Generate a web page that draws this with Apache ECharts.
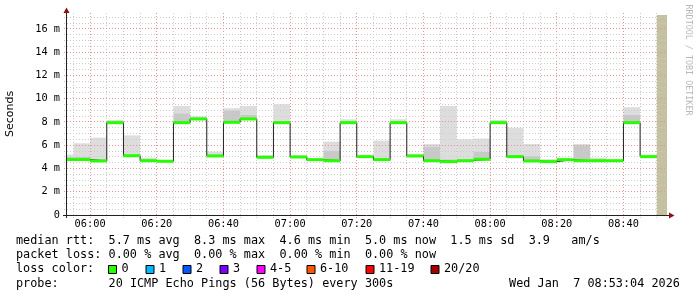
<!DOCTYPE html>
<html><head><meta charset="utf-8">
<script src="https://cdn.jsdelivr.net/npm/echarts@6/dist/echarts.min.js"></script>
<style>html,body{margin:0;padding:0;background:#fff}#c{width:697px;height:297px}</style>
</head><body><div id="c"></div>
<script>
// ---------- data ----------
const intervalStarts = ['05:50','05:55','06:00','06:05','06:10','06:15','06:20','06:25','06:30','06:35',
  '06:40','06:45','06:50','06:55','07:00','07:05','07:10','07:15','07:20','07:25','07:30','07:35',
  '07:40','07:45','07:50','07:55','08:00','08:05','08:10','08:15','08:20','08:25','08:30','08:35',
  '08:40','08:45'];
const medianMs = [4.77,4.77,4.65,7.94,5.10,4.67,4.62,7.94,8.26,5.08,
  7.97,8.26,4.96,7.94,4.99,4.76,4.67,7.94,5.02,4.76,7.94,5.08,
  4.67,4.59,4.67,4.79,7.94,5.02,4.65,4.59,4.76,4.67,4.67,4.67,
  7.94,5.02];
const smokeInnerMs = [5.00,5.00,4.80,8.05,5.20,4.80,4.64,8.75,8.40,5.20,
  9.00,8.60,5.05,8.10,5.05,4.78,5.55,8.05,5.03,4.90,8.10,5.12,
  5.90,4.80,4.80,5.45,8.05,5.15,5.07,4.70,4.77,6.00,4.80,4.68,
  8.60,5.08];
const smokeMaxMs = [5.20,6.17,6.65,8.17,6.85,4.93,4.65,9.38,8.49,5.45,
  9.18,9.38,5.16,9.52,5.13,4.80,6.31,8.23,5.05,6.40,8.23,5.22,
  6.10,9.38,6.51,6.57,8.17,7.51,6.11,4.80,4.78,6.11,4.93,4.70,
  9.27,5.16];
const stepEnd = '08:50';
const noDataEnd = '08:53:04';
const viewStart = '05:53:04';
const viewEnd = '08:53:04';
const yMaxMs = 17.2;
const xTickLabels = ['06:00','06:20','06:40','07:00','07:20','07:40','08:00','08:20','08:40'];
const yTickValues = [0,2,4,6,8,10,12,14,16];
const lossLabels = ['0','1','2','3','4-5','6-10','11-19','20/20'];
const lossColors = ['#26ff00','#00b8ff','#0059ff','#7e00ff','#ff00ff','#ff5500','#ff0000','#a10000'];
const legendLine1 = 'median rtt:  5.7 ms avg  8.3 ms max  4.6 ms min  5.0 ms now  1.5 ms sd  3.9   am/s';
const legendLine2 = 'packet loss: 0.00 % avg  0.00 % max  0.00 % min  0.00 % now';
const legendLine3 = 'loss color:';
const legendLine4 = 'probe:       20 ICMP Echo Pings (56 Bytes) every 300s';
const dateText = 'Wed Jan  7 08:53:04 2026';
const yTitle = 'Seconds';
const watermark = 'RRDTOOL / TOBI OETIKER';

// ---------- helpers ----------
const toMin = s => { const p = s.split(':').map(Number); return p[0]*60 + p[1] + (p[2]||0)/60; };
const fmt = v => { const h = Math.floor(v/60), m = Math.round(v - h*60); return String(h).padStart(2,'0')+':'+String(m).padStart(2,'0'); };
const starts = intervalStarts.map(toMin);
const ends = starts.slice(1).concat([toMin(stepEnd)]);

const smokeData = starts.map((t,i)=>[t, ends[i], medianMs[i], smokeInnerMs[i], smokeMaxMs[i]]);
const medData = starts.map((t,i)=>[t, ends[i], medianMs[i]]);
const lineData = starts.map((t,i)=>[t, medianMs[i]]).concat([[toMin(stepEnd), medianMs[medianMs.length-1]]]);

// grid lines (drawn through the axes)
const gridData = [];
const xs0 = toMin(viewStart), xs1 = toMin(viewEnd);
for (let m = Math.ceil(xs0/5)*5; m <= xs1; m += 5) gridData.push([m, 0, m % 20 === 0 ? 1 : 0]);
for (let v = 0.5; v <= yMaxMs; v += 0.5) gridData.push([v, 1, (v % 2 === 0) ? 1 : 0]);

const MONO = '"DejaVu Sans Mono", monospace';
const CW = 7.12, LX = 16;
function monoTokens(str, x0, y) {
  const out = []; const re = /\S+/g; let m;
  while ((m = re.exec(str)) !== null) {
    out.push({type:'text', x: x0 + m.index*CW, y: y,
      style:{text:m[0], font:'11.8px '+MONO, fill:'#000', textVerticalAlign:'middle'}});
  }
  return out;
}

const chart = echarts.init(document.getElementById('c'), null, {renderer:'canvas'});

const graphics = [];
graphics.push(...monoTokens(legendLine1, LX, 241));
graphics.push(...monoTokens(legendLine2, LX, 255));
graphics.push(...monoTokens(legendLine3, LX, 269.3));
graphics.push(...monoTokens(legendLine4, LX, 283.5));
graphics.push(...monoTokens(dateText, 680 - dateText.length*CW, 283.5));
const boxX = [108, 145.5, 182.5, 219.5, 256.5, 306.5, 365.5, 430.5];
lossLabels.forEach((l,i)=>{
  graphics.push({type:'rect', shape:{x:boxX[i]+0.5, y:265.5, width:8, height:8},
    style:{fill:lossColors[i], stroke:'#000', lineWidth:1}});
  graphics.push({type:'text', x: boxX[i]+13.5, y:269.3,
    style:{text:l, font:'11.8px '+MONO, fill:'#000', textVerticalAlign:'middle'}});
});
// axis lines + arrows
graphics.push({type:'line', shape:{x1:66.5,y1:218,x2:66.5,y2:12}, style:{stroke:'#222',lineWidth:1}, z:50});
graphics.push({type:'line', shape:{x1:63,y1:215.5,x2:670,y2:215.5}, style:{stroke:'#222',lineWidth:1}, z:50});
graphics.push({type:'polygon', shape:{points:[[63.5,13],[69.5,13],[66.5,7.5]]}, style:{fill:'#8b1010'}, z:51});
graphics.push({type:'polygon', shape:{points:[[669,212.5],[669,218.5],[674.5,215.5]]}, style:{fill:'#8b1010'}, z:51});
// titles
graphics.push({type:'text', x:10.5, y:114, rotation:Math.PI/2,
  style:{text:yTitle, font:'11px "DejaVu Sans", sans-serif', fill:'#000', textAlign:'center', textVerticalAlign:'middle'}});
graphics.push({type:'text', x:688, y:60, rotation:-Math.PI/2,
  style:{text:watermark, font:'8.4px '+MONO, fill:'#b8b8b8', textAlign:'center', textVerticalAlign:'middle'}});

const option = {
  animation:false,
  backgroundColor:'#fff',
  grid:{left:67, top:15, width:600, height:200, containLabel:false},
  xAxis:{type:'value', min:xs0, max:xs1,
    axisLine:{show:false}, axisTick:{show:false}, splitLine:{show:false},
    axisLabel:{customValues: xTickLabels.map(toMin), formatter: v=>fmt(v), margin:4,
      fontFamily:'DejaVu Sans Mono', fontSize:10.3, color:'#000'}},
  yAxis:{type:'value', min:0, max:yMaxMs, interval:2,
    axisLine:{show:false}, axisTick:{show:false}, splitLine:{show:false},
    axisLabel:{customValues: yTickValues, formatter: v=> v===0 ? '0' : v + ' m', margin:7,
      fontFamily:'DejaVu Sans Mono', fontSize:10.3, color:'#000'}},
  graphic: graphics,
  series:[
    { // smoke
      type:'custom', z:1, clip:true, data:smokeData, encode:{x:[0,1], y:[2,3,4]},
      renderItem:(params, api)=>{
        const cs = params.coordSys;
        const cx = x => Math.max(cs.x, Math.min(cs.x+cs.width, x));
        const a = api.coord([api.value(0), api.value(2)]);
        const b = api.coord([api.value(1), api.value(3)]);
        const c = api.coord([api.value(1), api.value(4)]);
        const x0 = cx(a[0]), x1 = cx(b[0]);
        if (x1 <= x0) return null;
        return {type:'group', children:[
          {type:'rect', shape:{x:x0, y:c[1], width:x1-x0, height:b[1]-c[1]}, style:{fill:'#dddddd'}},
          {type:'rect', shape:{x:x0, y:b[1], width:x1-x0, height:a[1]-b[1]}, style:{fill:'#c8c8c8'}}
        ]};
      }
    },
    { // no-data area
      type:'custom', z:1, clip:true, data:[[toMin(stepEnd), toMin(noDataEnd), 0, yMaxMs]], encode:{x:[0,1], y:[2,3]},
      renderItem:(params, api)=>{
        const a = api.coord([api.value(0), api.value(2)]);
        const b = api.coord([api.value(1), api.value(3)]);
        return {type:'rect', shape:{x:a[0], y:b[1], width:b[0]-a[0], height:a[1]-b[1]}, style:{fill:'#c4c0a0'}};
      }
    },
    { // grid lines
      type:'custom', z:3, silent:true, data:gridData, encode:{x:-1, y:-1},
      renderItem:(params, api)=>{
        const cs = params.coordSys;
        const v = api.value(0), isY = api.value(1), major = api.value(2);
        const stroke = major ? '#e49494' : '#cccccc';
        if (isY) {
          const y = Math.floor(api.coord([xs0, v])[1]) + 0.5;
          return {type:'line', shape:{x1:cs.x-3, y1:y, x2:cs.x+cs.width, y2:y}, style:{stroke, lineWidth:1, lineDash:[1,2]}};
        } else {
          const x = Math.floor(api.coord([v, 0])[0]) + 0.5;
          return {type:'line', shape:{x1:x, y1:cs.y-2, x2:x, y2:cs.y+cs.height+3}, style:{stroke, lineWidth:1, lineDash:[1,2]}};
        }
      }
    },
    { // median line
      type:'line', z:5, step:'end', data:lineData, showSymbol:false, symbol:'none', clip:true,
      lineStyle:{color:'#202020', width:1}
    },
    { // loss coloured median band
      type:'custom', z:6, clip:true, data:medData, encode:{x:[0,1], y:2},
      renderItem:(params, api)=>{
        const cs = params.coordSys;
        const cx = x => Math.max(cs.x, Math.min(cs.x+cs.width, x));
        const a = api.coord([api.value(0), api.value(2)]);
        const b = api.coord([api.value(1), api.value(2)]);
        const x0 = cx(a[0]), x1 = cx(b[0]);
        if (x1 <= x0) return null;
        return {type:'rect', shape:{x:x0, y:a[1]-1.5, width:x1-x0, height:3}, style:{fill:lossColors[0]}};
      }
    }
  ]
};
chart.setOption(option);
</script>
</body></html>
